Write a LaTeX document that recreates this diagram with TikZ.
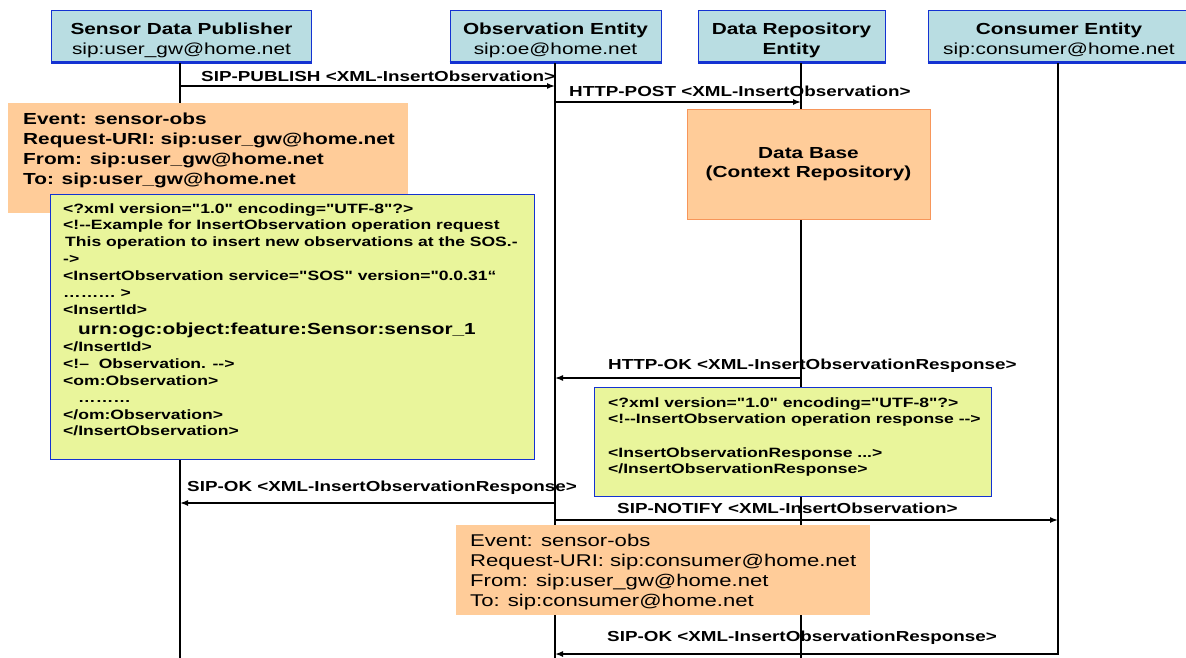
\documentclass[tikz,border=0pt]{standalone}
\usepackage{fontspec}
\setmainfont{Liberation Sans}[FakeStretch=1.3, Ligatures=TeXOff]
\usepackage{xcolor}
\usepackage{tikz}
\usetikzlibrary{arrows.meta, positioning}

\definecolor{entityfill}{RGB}{185,221,226}
\definecolor{entityline}{RGB}{20,50,210}
\definecolor{notefill}{RGB}{255,204,153}
\definecolor{noteline}{RGB}{247,150,90}
\definecolor{xmlfill}{RGB}{233,245,155}

% two lines of an entity head, pushed a little down in the box
\newcommand{\entitytext}[2]{\rule{0pt}{19pt}\textbf{#1}\\ #2}

\begin{document}
\begin{tikzpicture}[x=1pt, y=-1pt, every node/.style={inner sep=0pt},
    entity/.style={draw=entityline, fill=entityfill, line width=0.8pt, minimum height=53, align=center,
                   font=\fontsize{16}{20.5}\selectfont},
    lifeline/.style={line width=1.5pt},
    msg/.style={line width=1.5pt, -{Latex[length=8pt,width=6pt]}},
    msglabel/.style={anchor=base west, font=\bfseries\fontsize{14.5}{17}\selectfont},
    note/.style={fill=notefill, anchor=north west},
    xmlbox/.style={draw=entityline, fill=xmlfill, line width=0.8pt, anchor=north west},
    boxtext/.style={align=left, anchor=north west}]
    \useasboundingbox (0,0) rectangle (1186,658);

    % entities
    \node[entity, minimum width=260] (sdp) at (181.5,36.5) {\entitytext{Sensor Data Publisher}{sip:user\_gw@home.net}};
    \node[entity, minimum width=211] (oe) at (555.5,36.5) {\entitytext{Observation Entity}{sip:oe@home.net}};
    \node[entity, minimum width=187] (dre) at (791.5,36.5) {\entitytext{Data Repository}{\textbf{Entity}}};
    \node[entity, minimum width=262] (ce) at (1059,36.5) {\entitytext{Consumer Entity}{sip:consumer@home.net}};
    \foreach \e in {sdp,oe,dre,ce}
        \draw[entityline, line width=2.5pt] ([yshift=1pt]\e.south west) -- ([yshift=1pt]\e.south east);

    % lifelines
    \coordinate (sdp-b) at (180,658);
    \coordinate (oe-b) at (555,658);
    \coordinate (dre-b) at (801,658);
    \coordinate (ce-b) at (1058,655);
    \foreach \e in {sdp,oe,dre,ce}
        \draw[lifeline] (\e.south -| \e-b) -- (\e-b);

    % messages
    \coordinate (m1) at (0,86);
    \coordinate (m2) at (0,102);
    \coordinate (m3) at (0,378);
    \coordinate (m4) at (0,503);
    \coordinate (m5) at (0,520);
    \coordinate (m6) at (0,654);
    \draw[msg] (sdp-b |- m1) -- (oe-b |- m1);
    \draw[msg] (oe-b |- m2) -- (dre-b |- m2);
    \draw[msg] (dre-b |- m3) -- (oe-b |- m3);
    \draw[msg] (oe-b |- m4) -- (sdp-b |- m4);
    \draw[msg] (oe-b |- m5) -- (ce-b |- m5);
    \draw[msg] (ce-b |- m6) -- (oe-b |- m6);

    \node[msglabel] (publish) at (201,82) {SIP-PUBLISH <XML-InsertObservation>};
    \node[msglabel] (post) at (569,97) {HTTP-POST <XML-InsertObservation>};
    \node[msglabel] (httpok) at (608,369) {HTTP-OK <XML-InsertObservationResponse>};
    \node[msglabel] (sipok) at (187,491) {SIP-OK <XML-InsertObservationResponse>};
    \node[msglabel] (notify) at (617,513) {SIP-NOTIFY <XML-InsertObservation>};
    \node[msglabel] (sipok2) at (607,641) {SIP-OK <XML-InsertObservationResponse>};

    % data base of the repository
    \node[draw=noteline, fill=notefill, line width=0.8pt, minimum width=243, minimum height=110, align=center,
          font=\bfseries\fontsize{16}{19}\selectfont] (db) at (808.5,164) {Data Base\\ (Context Repository)};

    % publish headers
    \node[note, minimum width=400, minimum height=110] (pubinfo) at (8,103) {};
    \node[boxtext, font=\bfseries\fontsize{16}{20}\selectfont] (pubinfo-txt) at (23,112.5)
        {Event: sensor-obs\\ Request-URI: sip:user\_gw@home.net\\ From: sip:user\_gw@home.net\\ To: sip:user\_gw@home.net};

    % insert request
    \node[xmlbox, minimum width=484, minimum height=265] (req) at (50,194) {};
    \node[boxtext, font=\bfseries\fontsize{13.5}{17}\selectfont] (req-txt) at (63,203.5)
        {<?xml version="1.0" encoding="UTF-8"?>\\[-1pt]
         <!--Example for InsertObservation operation request\\
         \hspace*{2pt}This operation to insert new observations at the SOS.-\\
         ->\\
         <InsertObservation service="SOS" version="0.0.31“\\
         ……… >\\
         <InsertId>\\[3pt]
         \hspace*{15pt}{\fontsize{16}{17}\selectfont urn:ogc:object:feature:Sensor:sensor\_1}\\
         </InsertId>\\
         <!–\ \ Observation. -->\\
         <om:Observation>\\
         \hspace*{15pt}………\\
         </om:Observation>\\[-1pt]
         </InsertObservation>};

    % insert response
    \node[xmlbox, minimum width=397, minimum height=109] (resp) at (594,387) {};
    \node[boxtext, font=\bfseries\fontsize{13.5}{16.5}\selectfont] (resp-txt) at (608,397.5)
        {<?xml version="1.0" encoding="UTF-8"?>\\
         <!--InsertObservation operation response -->\\[17pt]
         <InsertObservationResponse ...>\\
         </InsertObservationResponse>};

    % notify headers
    \node[note, minimum width=414, minimum height=90] (notifyinfo) at (456,525) {};
    \node[boxtext, font=\fontsize{17}{20}\selectfont] (notifyinfo-txt) at (470,534)
        {Event: sensor-obs\\ Request-URI: sip:consumer@home.net\\ From: sip:user\_gw@home.net\\ To: sip:consumer@home.net};
\end{tikzpicture}
\end{document}
